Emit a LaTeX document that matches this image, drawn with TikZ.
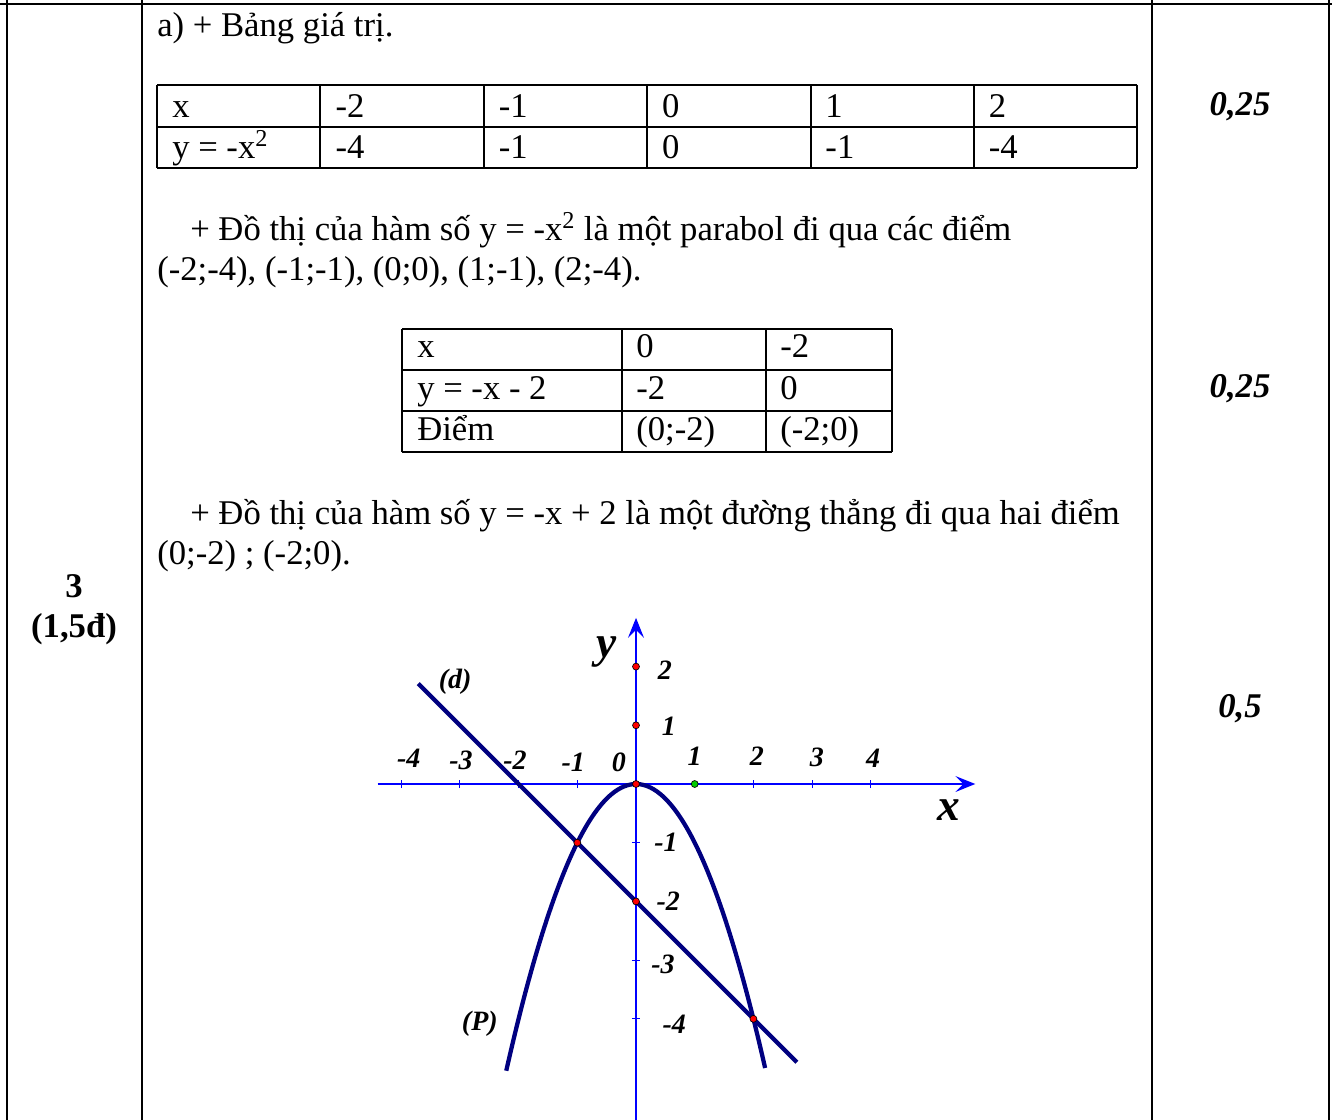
\documentclass[tikz,border=0pt]{standalone}
\usepackage{fontspec}
\setmainfont{Liberation Serif}
\usetikzlibrary{arrows.meta}
\definecolor{axisblue}{RGB}{0,0,255}
\definecolor{curvenavy}{RGB}{0,0,128}
\tikzset{
  frameline/.style={line width=1.8pt},
  gridline/.style={line width=1.1pt},
  txt/.style={anchor=base west, inner sep=0pt},
  score/.style={anchor=base, inner sep=0pt, font=\fontsize{26}{31}\selectfont\bfseries\itshape},
  qlabel/.style={anchor=base, inner sep=0pt, font=\fontsize{26}{31}\selectfont\bfseries},
  axisline/.style={axisblue, line width=1.1pt, -{Stealth[length=15pt,width=12pt,inset=6pt]}},
  curveline/.style={curvenavy, line width=3.2pt},
  ticklbl/.style={inner sep=0pt, font=\fontsize{21}{25}\selectfont\bfseries\itshape},
  axislbl/.style={inner sep=0pt, font=\fontsize{34}{40}\selectfont\bfseries\itshape},
  redpt/.style={fill=red, draw=black, line width=0.5pt},
  greenpt/.style={fill=green!80!black, draw=black, line width=0.5pt}
}

\begin{document}
\begin{tikzpicture}[x=0.75pt, y=-0.75pt, font=\fontsize{26}{31}\selectfont]

    % 1. Page frame and columns
    \useasboundingbox (0,0) rectangle (1332,1120);
    \draw[frameline] (0,4) -- (1332,4);
    \foreach \cx in {7,142,1152,1329}
        \draw[frameline] (\cx,0) -- (\cx,1120);

    % 2. Left and right column texts
    \node[qlabel] (qnum) at (74,597) {3};
    \node[qlabel] (qpts) at (74,637) {(1,5đ)};
    \node[score] (s1) at (1240,116) {0,25};
    \node[score] (s2) at (1240,397) {0,25};
    \node[score] (s3) at (1240,717) {0,5};

    % 3. First table: y = -x^2
    \node[txt] (ta) at (157,37) {a) + Bảng giá trị.};
    \foreach \ry in {85,127,168}
        \draw[gridline] (157,\ry) -- (1137,\ry);
    \foreach \cx in {157,320,484,647,811,974,1137}
        \draw[gridline] (\cx,85) -- (\cx,168);
    \foreach \t [count=\i] in {x,-2,-1,0,1,2}
        \node[txt] (r1c\i) at ({157+163.3*(\i-1)+15},118) {\t};
    \foreach \t [count=\i] in {{y = -x\textsuperscript{2}},-4,-1,0,-1,-4}
        \node[txt] (r2c\i) at ({157+163.3*(\i-1)+15},159) {\t};

    \node[txt] (p1) at (190,241) {+ Đồ thị của hàm số y = -x\textsuperscript{2} là một parabol đi qua các điểm};
    \node[txt] (p2) at (157,281) {(-2;-4), (-1;-1), (0;0), (1;-1), (2;-4).};

    % 4. Second table: y = -x - 2
    \foreach \ry in {329,370,411,452}
        \draw[gridline] (402,\ry) -- (892,\ry);
    \foreach \cx in {402,622,766,892}
        \draw[gridline] (\cx,329) -- (\cx,452);
    \node[txt] (u1) at (417,357) {x};
    \node[txt] (u2) at (636,357) {0};
    \node[txt] (u3) at (780,357) {-2};
    \node[txt] (v1) at (417,399) {y = -x - 2};
    \node[txt] (v2) at (636,399) {-2};
    \node[txt] (v3) at (780,399) {0};
    \node[txt] (w1) at (417,440) {Điểm};
    \node[txt] (w2) at (636,440) {(0;-2)};
    \node[txt] (w3) at (780,440) {(-2;0)};

    \node[txt] (q1) at (190,524) {+ Đồ thị của hàm số y = -x + 2 là một đường thẳng đi qua hai điểm};
    \node[txt] (q2) at (157,564) {(0;-2) ; (-2;0).};

    % 5. The graph
    \begin{scope}[shift={(636,784)}, x=44.03pt, y=44.03pt]
        \coordinate (O) at (0,0);
        \coordinate (xl) at (-4.4,0);
        \coordinate (xr) at (5.78,0);
        \coordinate (yb) at (0,-5.75);
        \coordinate (yt) at (0,2.83);
        \draw[axisline] (xl) -- (xr);
        \draw[axisline] (yb) -- (yt);
        \foreach \i in {-4,-3,-2,-1,2,3,4}
            \draw[axisblue, line width=0.8pt] (\i,-0.07) -- (\i,0.07);
        \foreach \j in {-1,-3,-4}
            \draw[axisblue, line width=0.8pt] (-0.07,\j) -- (0.07,\j);

        % line (d) and parabola (P)
        \coordinate (dA) at (-3.71,1.71);
        \coordinate (dB) at (2.74,-4.74);
        \draw[curveline] (dA) -- (dB);
        \draw[curveline] plot[domain=-2.21:2.2, samples=80, smooth] (\x,{-\x*\x});

        % points
        \foreach \px/\py in {0/2,0/1,0/0,-1/-1,0/-2,2/-4}
            \filldraw[redpt] (\px,\py) circle (2.6pt);
        \filldraw[greenpt] (1,0) circle (2.6pt);

        % labels
        \foreach \lx/\ly/\t in {-3.87/0.44/-4,-2.98/0.41/-3,-2.06/0.41/-2,-1.07/0.37/-1,-0.29/0.37/0,1.0/0.48/1,2.06/0.48/2,3.08/0.46/3,4.04/0.44/4}
            \node[ticklbl] at (\lx,\ly) {\t};
        \foreach \lx/\ly/\t in {0.49/1.94/2,0.56/0.99/1,0.51/-1.0/-1,0.55/-1.99/-2,0.46/-3.08/-3,0.65/-4.09/-4}
            \node[ticklbl] at (\lx,\ly) {\t};
        \node[axislbl] (ylbl) at (-0.51,2.25) {y};
        \node[axislbl] (xlbl) at (5.33,-0.44) {x};
        \node[ticklbl] (dlbl) at (-3.08,1.74) {(d)};
        \node[ticklbl] (plbl) at (-2.66,-4.09) {(P)};
    \end{scope}

\end{tikzpicture}
\end{document}
